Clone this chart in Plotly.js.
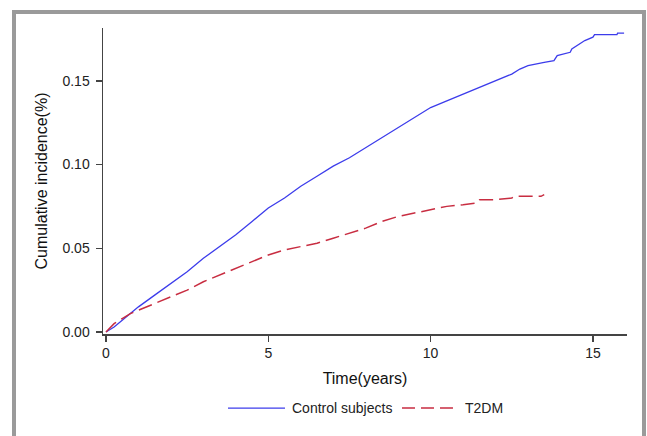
<!DOCTYPE html>
<html>
<head>
<meta charset="utf-8">
<script src="https://cdn.plot.ly/plotly-3.0.1.min.js"></script>
<style>
html,body{margin:0;padding:0;background:#fff;}
#wrap{position:relative;width:647px;height:436px;overflow:hidden;}
#chart{position:absolute;left:0;top:0;width:647px;height:436px;}
#frame{position:absolute;left:12px;top:10px;width:626px;height:426px;border:4px solid #9a9a9a;pointer-events:none;box-sizing:content-box;}
</style>
</head>
<body>
<div id="wrap"><div id="chart"></div><div id="frame"></div></div>
<script>
// Control subjects: time (years) and cumulative incidence
var controlTime = [0, 0.25, 0.5, 0.75, 1, 1.5, 2, 2.5, 3, 3.5, 4, 4.5, 5, 5.5, 6, 6.5, 7, 7.5, 8, 8.5, 9, 9.5, 10, 10.5, 11, 11.5, 12, 12.5, 12.75, 13, 13.5, 13.8, 13.9, 14.3, 14.35, 14.5, 14.75, 15.0, 15.05, 15.74, 15.76, 15.96];
var controlInc  = [0, 0.003, 0.007, 0.011, 0.015, 0.022, 0.029, 0.036, 0.044, 0.051, 0.058, 0.066, 0.074, 0.080, 0.087, 0.093, 0.099, 0.104, 0.110, 0.116, 0.122, 0.128, 0.134, 0.138, 0.142, 0.146, 0.150, 0.154, 0.157, 0.159, 0.161, 0.162, 0.165, 0.167, 0.169, 0.171, 0.174, 0.176, 0.1775, 0.1775, 0.1784, 0.1784];
// T2DM
var t2dmTime = [0, 0.25, 0.5, 0.75, 1, 1.5, 2, 2.5, 3, 3.5, 4, 4.5, 5, 5.5, 6, 6.5, 7, 7.5, 8, 8.5, 9, 9.5, 10, 10.5, 11, 11.4, 11.5, 12, 12.5, 12.6, 13.4, 13.5];
var t2dmInc  = [0, 0.005, 0.008, 0.011, 0.013, 0.017, 0.021, 0.025, 0.030, 0.034, 0.038, 0.042, 0.046, 0.049, 0.051, 0.053, 0.056, 0.059, 0.062, 0.066, 0.069, 0.071, 0.073, 0.075, 0.076, 0.077, 0.079, 0.079, 0.080, 0.081, 0.081, 0.082];
var seriesNames = ["Control subjects", "T2DM"];
var xTicks = [0, 5, 10, 15];
var yTicks = [0, 0.05, 0.10, 0.15];

var colors = ['rgb(60,60,235)', 'rgb(200,45,65)'];
var dashes = ['solid', '14px,6px'];
var widths = [1.3, 1.5];

var traces = [
  {x: controlTime, y: controlInc, name: seriesNames[0], type: 'scatter', mode: 'lines',
   line: {color: colors[0], width: widths[0], dash: dashes[0]}, showlegend: false},
  {x: t2dmTime, y: t2dmInc, name: seriesNames[1], type: 'scatter', mode: 'lines',
   line: {color: colors[1], width: widths[1], dash: dashes[1]}, showlegend: false}
];

// custom legend (longer line samples, as in the reference)
var legY = -0.242;
var legSamples = [[0.2385, 0.3473], [0.5706, 0.6679]];
var legTextX = [0.3569, 0.687];
var shapes = [], annotations = [];
for (var i = 0; i < seriesNames.length; i++) {
  shapes.push({type: 'line', xref: 'paper', yref: 'paper', x0: legSamples[i][0], x1: legSamples[i][1],
    y0: legY, y1: legY, line: {color: colors[i], width: widths[i], dash: i === 1 ? '13px,6px' : 'solid'}});
  annotations.push({xref: 'paper', yref: 'paper', x: legTextX[i], y: legY, xanchor: 'left', yanchor: 'middle',
    text: seriesNames[i], showarrow: false, font: {size: 14, color: '#222'}});
}

var axisColor = '#444';
var layout = {
  width: 647, height: 436,
  margin: {l: 103, r: 20, t: 28, b: 102},
  paper_bgcolor: '#fff', plot_bgcolor: '#fff',
  font: {family: 'Liberation Sans, Arial, sans-serif', size: 14, color: '#222'},
  showlegend: false,
  shapes: shapes,
  annotations: annotations,
  xaxis: {range: [-0.092, 16.05], tickvals: xTicks, ticktext: xTicks.map(String),
    showgrid: false, zeroline: false, showline: true, linecolor: axisColor, linewidth: 1.5,
    ticks: 'outside', ticklen: 6, tickwidth: 1.5, tickcolor: axisColor,
    tickfont: {size: 14, color: '#222'},
    title: {text: 'Time(years)', font: {size: 16, color: '#111'}, standoff: 12}},
  yaxis: {range: [-0.0012, 0.1815], tickvals: yTicks, tickformat: '.2f',
    showgrid: false, zeroline: false, showline: true, linecolor: axisColor, linewidth: 1.5,
    ticks: 'outside', ticklen: 6, tickwidth: 1.5, tickcolor: axisColor,
    ticklabelstandoff: 3,
    tickfont: {size: 14, color: '#222'},
    title: {text: 'Cumulative incidence(%)', font: {size: 16, color: '#111'}, standoff: 11}}
};
Plotly.newPlot('chart', traces, layout, {displayModeBar: false, staticPlot: true});
</script>
</body>
</html>
